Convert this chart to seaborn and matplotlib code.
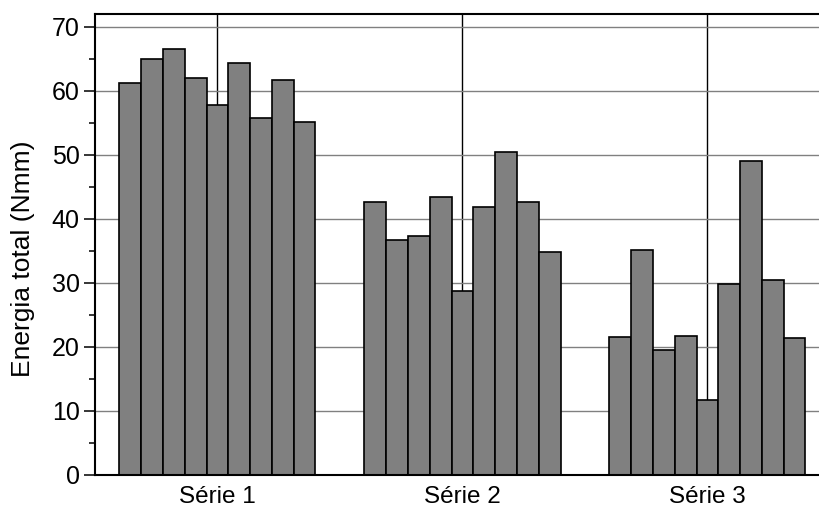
import matplotlib
matplotlib.use("Agg")
import matplotlib.pyplot as plt
from matplotlib.ticker import MultipleLocator
import pandas as pd
import seaborn as sns

series = ["Série 1", "Série 2", "Série 3"]
samples = [1, 2, 3, 4, 5, 6, 7, 8, 9]
serie1 = [61.2, 65.0, 66.6, 62.0, 57.8, 64.3, 55.8, 61.7, 55.2]
serie2 = [42.7, 36.7, 37.3, 43.4, 28.7, 41.8, 50.5, 42.6, 34.8]
serie3 = [21.5, 35.1, 19.6, 21.7, 11.7, 29.9, 49.0, 30.5, 21.4]

rows = []
for name, vals in zip(series, [serie1, serie2, serie3]):
    for s, v in zip(samples, vals):
        rows.append({"serie": name, "amostra": s, "energia": v})
df = pd.DataFrame(rows)

sns.set_style("ticks")
plt.rcParams["font.family"] = ["Liberation Sans", "DejaVu Sans"]
plt.rcParams["text.color"] = "black"
plt.rcParams["axes.labelcolor"] = "black"
plt.rcParams["xtick.color"] = "black"
plt.rcParams["ytick.color"] = "black"

fig = plt.figure(figsize=(8.2, 5.2), dpi=100)
ax = fig.add_axes([95 / 820, 45 / 520, 735 / 820, 461 / 520])

sns.barplot(data=df, x="serie", y="energia", hue="amostra",
            palette=["#808080"] * len(samples), edgecolor="black",
            linewidth=1.2, width=0.8, gap=0, saturation=1,
            legend=False, ax=ax)

ax.set_axisbelow(True)
ax.set_xlim(-0.5, 2.5)
ax.set_ylim(0, 72)
ax.yaxis.set_major_locator(MultipleLocator(10))
ax.yaxis.set_minor_locator(MultipleLocator(5))
ax.yaxis.grid(True, which="major", color="#808080", lw=1.0)
ax.xaxis.grid(True, color="black", lw=1.0)

ax.tick_params(axis="y", which="major", length=8, width=1.1, labelsize=18, pad=3)
ax.tick_params(axis="y", which="minor", length=4, width=1.1)
ax.tick_params(axis="x", length=0, labelsize=17.5, pad=8)

for side in ["left", "top", "bottom"]:
    ax.spines[side].set_linewidth(1.5)
    ax.spines[side].set_color("black")
ax.spines["right"].set_visible(False)

ax.set_xlabel("")
ax.set_ylabel("Energia total (Nmm)", fontsize=19)
ax.yaxis.set_label_coords(-0.081, 0.47)

fig.savefig("out.png", dpi=100)
